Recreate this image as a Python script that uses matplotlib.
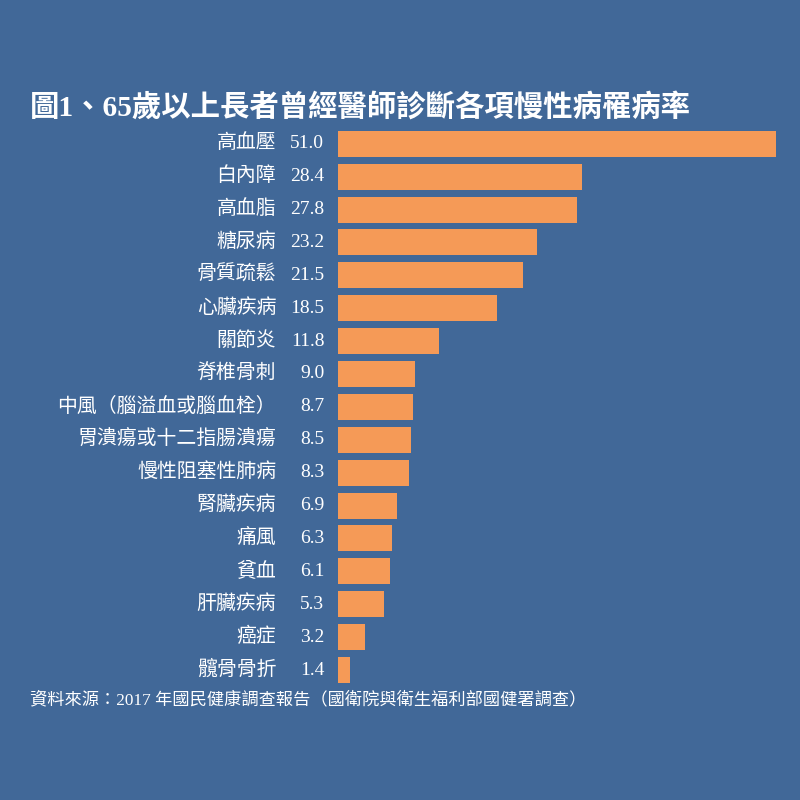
import matplotlib
matplotlib.use('Agg')
import matplotlib.pyplot as plt

FONT = ['Liberation Serif', 'Noto Sans CJK TC']
BG = '#416898'
BAR = '#F59A57'

diseases = ['高血壓', '白內障', '高血脂', '糖尿病', '骨質疏鬆', '心臟疾病', '關節炎',
            '脊椎骨刺', '中風（腦溢血或腦血栓）', '胃潰瘍或十二指腸潰瘍', '慢性阻塞性肺病',
            '腎臟疾病', '痛風', '貧血', '肝臟疾病', '癌症', '髖骨骨折']
rates = [51.0, 28.4, 27.8, 23.2, 21.5, 18.5, 11.8, 9.0, 8.7, 8.5, 8.3,
         6.9, 6.3, 6.1, 5.3, 3.2, 1.4]

title = '圖1、65歲以上長者曾經醫師診斷各項慢性病罹病率'
source = '資料來源：2017 年國民健康調查報告（國衛院與衛生福利部國健署調查）'

fig = plt.figure(figsize=(8, 8), dpi=100, facecolor=BG)
ax = fig.add_axes([0.4225, 0.1419, 0.5475, 0.699])
ax.set_facecolor(BG)

pos = list(range(len(diseases)))
ax.barh(pos, rates, height=0.79, color=BAR)
ax.set_xlim(0, 51)
ax.set_ylim(len(diseases) - 0.5, -0.5)
ax.axis('off')

# category names and values to the left of the bars
for i, (name, v) in enumerate(zip(diseases, rates)):
    ax.text(-7.2, i, name, ha='right', va='center', color='white',
            fontsize=14.3, family=FONT)
    ax.text(-1.6, i, f'{v:.1f}', ha='right', va='center', color='white',
            fontsize=14, family=FONT)

fig.text(30 / 800, 1 - 107 / 800, title, ha='left', va='center', color='white',
         fontsize=21.2, fontweight='bold', family=FONT)
fig.text(30 / 800, 1 - 700 / 800, source, ha='left', va='center', color='white',
         fontsize=12.4, family=FONT)

fig.savefig('out.png', dpi=100, facecolor=BG)
